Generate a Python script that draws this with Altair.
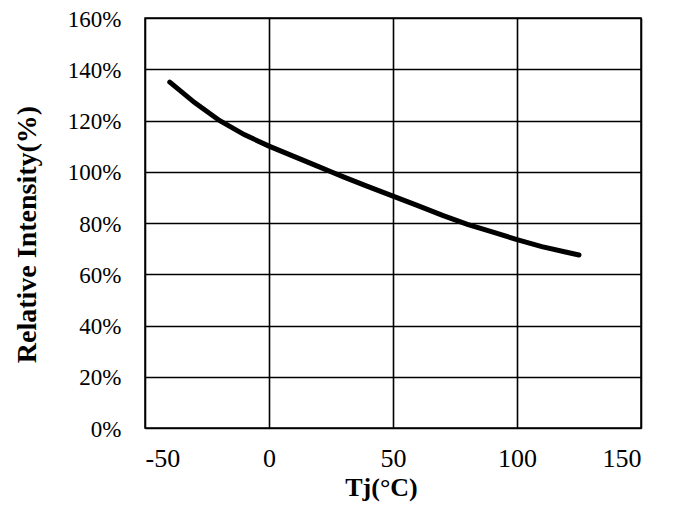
import altair as alt
import pandas as pd

temps = [-40, -30, -20, -10, 0, 10, 20, 25, 30, 40, 50, 60, 70, 80, 90, 100, 110, 120, 125]
intensity = [135, 127, 120, 114.5, 110, 106, 102, 100, 98, 94.2, 90.5, 86.8, 83, 79.5, 76.5, 73.5, 70.8, 68.6, 67.5]
x_ticks = [-50, 0, 50, 100, 150]
y_ticks = [0, 20, 40, 60, 80, 100, 120, 140, 160]

df = pd.DataFrame({"Tj": temps, "I": [v / 100 for v in intensity]})

font = "Liberation Serif"

chart = alt.Chart(df).mark_line(color="black", strokeWidth=5, strokeCap="round").encode(
    x=alt.X("Tj:Q", scale=alt.Scale(domain=[-50, 150], nice=False),
            axis=alt.Axis(values=x_ticks, title="Tj(°C)", labelExpr="'' + datum.value",
                          labelFontSize=26, labelBaseline="alphabetic", labelPadding=38,
                          titleFontSize=26, titleX=236, titleY=67, titleBaseline="alphabetic",
                          titleAnchor="start", titleAlign="center")),
    y=alt.Y("I:Q", scale=alt.Scale(domain=[0, 1.6], nice=False),
            axis=alt.Axis(values=[v / 100 for v in y_ticks], format=".0%",
                          title="Relative  Intensity(%)",
                          labelFontSize=23, labelPadding=24,
                          labelBaseline="alphabetic", labelOffset=8,
                          titleFontSize=28, titleX=-110, titleY=216, titleAngle=270,
                          titleBaseline="alphabetic", titleAlign="center", titleAnchor="start")),
).properties(
    width=496, height=410,
    autosize=alt.AutoSizeParams(type="none"),
    padding={"left": 137, "top": 10, "right": 30, "bottom": 74},
).configure_view(
    stroke="black", strokeWidth=1.5
).configure_axis(
    grid=True, gridColor="black", gridWidth=1.6, gridOpacity=1,
    domain=False, ticks=False,
    labelFont=font, labelColor="black",
    titleFont=font, titleFontWeight="bold", titleColor="black",
)

chart.save("out.html", embed_options={"renderer": "svg", "actions": False})
